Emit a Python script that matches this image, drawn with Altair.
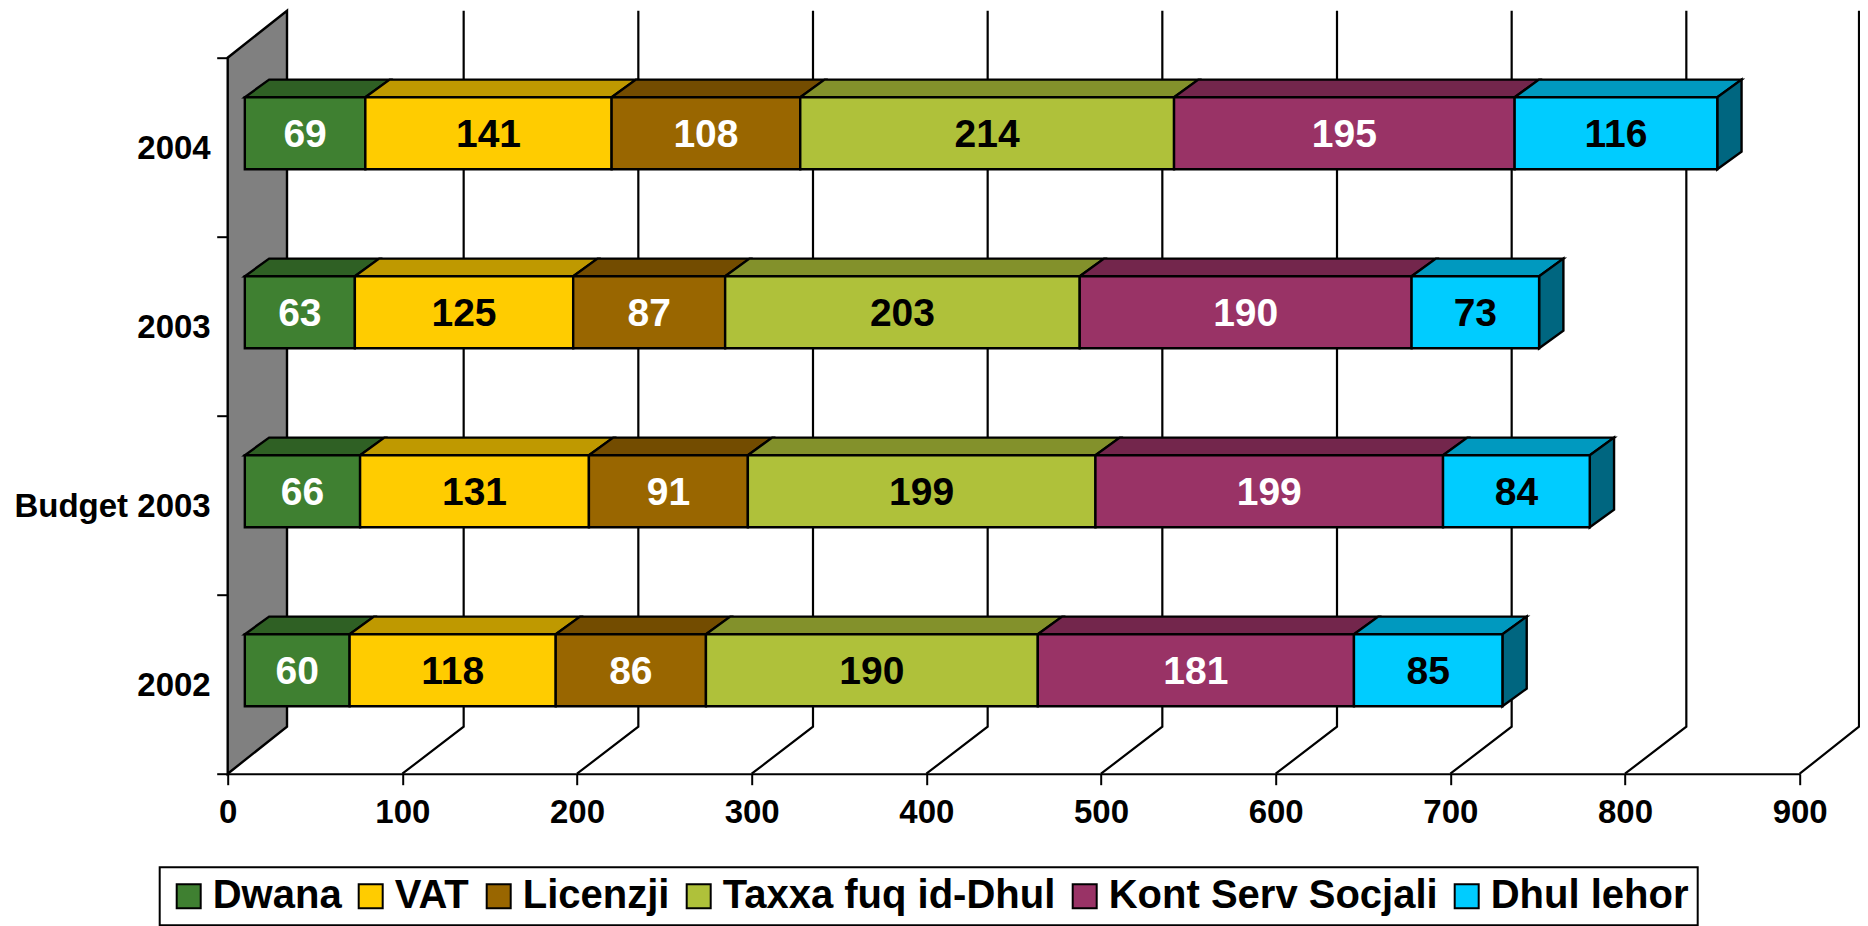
import altair as alt
import pandas as pd

categories = ["2002", "Budget 2003", "2003", "2004"]
series = ["Dwana", "VAT", "Licenzji", "Taxxa fuq id-Dhul", "Kont Serv Socjali", "Dhul lehor"]
dwana = [60, 66, 63, 69]
vat = [118, 131, 125, 141]
licenzji = [86, 91, 87, 108]
taxxa = [190, 199, 203, 214]
kont = [181, 199, 190, 195]
dhul = [85, 84, 73, 116]
front_colors = ["#3F8031", "#FFCC00", "#996600", "#AFC13A", "#993366", "#00CCFF"]
top_colors = ["#2F6024", "#BF9900", "#734C00", "#83912B", "#73264C", "#0099BF"]
side_color = "#006680"
text_colors = ["white", "black", "white", "black", "white", "black"]
x_ticks = [0, 100, 200, 300, 400, 500, 600, 700, 800, 900]
y_ticks = [0, 1, 2, 3, 4]

W, H = 1572, 716
FONT = "Liberation Sans"
# 3D geometry expressed in scale units
WALL_DX, WALL_DY = 59.3 * 900 / W, 47.0 * 4 / H
GRID_DX = 61.3 * 900 / W
BAR_DX, BAR_DY = 24.3 * 900 / W, 17.7 * 4 / H
BAR_SHIFT = 9.8
BAR_LOW, BAR_HIGH = 0.3765, 0.7788

values = [dwana, vat, licenzji, taxxa, kont, dhul]

rects, texts, tops, sides = [], [], [], []
for c, cat in enumerate(categories):
    start = BAR_SHIFT
    y0, y1 = c + BAR_LOW, c + BAR_HIGH
    for s, name in enumerate(series):
        v = values[s][c]
        end = start + v
        rects.append(dict(series=name, x=start, x2=end, y=y0, y2=y1))
        texts.append(dict(x=(start + end) / 2, y=(y0 + y1) / 2, label=str(v), color=text_colors[s]))
        gid = f"{c}-{s}"
        for px, a, b in [
            (start, y1, y1),
            (start + BAR_DX, y1, y1 + BAR_DY),
            (end, y1, y1 + BAR_DY),
            (end + BAR_DX, y1 + BAR_DY, y1 + BAR_DY),
        ]:
            tops.append(dict(g=gid, x=px, y=a, y2=b, fill=top_colors[s]))
        start = end
    sides.append(dict(g=str(c), x=start, y=y0, y2=y1))
    sides.append(dict(g=str(c), x=start + BAR_DX, y=y0 + BAR_DY, y2=y1 + BAR_DY))

wall = [
    dict(x=0, y=0, y2=4),
    dict(x=WALL_DX, y=WALL_DY, y2=4 + WALL_DY),
]
grid = []
for t in x_ticks[1:]:
    depth = WALL_DX if t == x_ticks[-1] else GRID_DX
    grid.append(dict(t=t, o=0, x=t, y=0))
    grid.append(dict(t=t, o=1, x=t + depth, y=WALL_DY))
    grid.append(dict(t=t, o=2, x=t + depth, y=4 + WALL_DY))
cat_labels = [dict(x=0, y=i + 0.5, label=cat) for i, cat in enumerate(categories)]

xs = alt.Scale(domain=[0, 900], nice=False, zero=False)
ys = alt.Scale(domain=[0, 4], nice=False, zero=False)
x_axis = alt.Axis(values=x_ticks, grid=False, tickSize=11, tickWidth=2, domainWidth=2,
                  domainColor="black", tickColor="black", labelColor="black",
                  labelFont=FONT, labelFontWeight="bold", labelFontSize=33,
                  labelPadding=12, labelFlush=False, labelOverlap=False, format="d")
y_axis = alt.Axis(values=y_ticks, grid=False, tickSize=11, tickWidth=2, domainWidth=2,
                  domainColor="black", tickColor="black", labels=False)
X = alt.X("x:Q", scale=xs, axis=x_axis, title=None)
Y = alt.Y("y:Q", scale=ys, axis=y_axis, title=None, stack=False)
X2 = alt.X2("x2:Q")
Y2 = alt.Y2("y2:Q")

wall_face = (
    alt.Chart(pd.DataFrame(wall))
    .mark_area(orient="vertical", fill="#808080", stroke="black", strokeWidth=2.4)
    .encode(x=X, y=Y, y2=Y2)
)

grid_lines = (
    alt.Chart(pd.DataFrame(grid))
    .mark_line(color="black", strokeWidth=2.2)
    .encode(x=X, y=Y, detail="t:N", order="o:Q")
)

cat_text = (
    alt.Chart(pd.DataFrame(cat_labels))
    .mark_text(align="right", baseline="middle", dx=-17, dy=2, font=FONT, fontWeight="bold",
               fontSize=33, color="black")
    .encode(x=X, y=Y, text="label:N")
)

top_faces = (
    alt.Chart(pd.DataFrame(tops))
    .mark_area(orient="vertical", stroke="black", strokeWidth=2.4)
    .encode(x=X, y=Y, y2=Y2, detail="g:N", fill=alt.Fill("fill:N", scale=None, legend=None))
)

side_faces = (
    alt.Chart(pd.DataFrame(sides))
    .mark_area(orient="vertical", stroke="black", strokeWidth=2.4, fill=side_color)
    .encode(x=X, y=Y, y2=Y2, detail="g:N")
)

front_faces = (
    alt.Chart(pd.DataFrame(rects))
    .mark_rect(stroke="black", strokeWidth=2.4)
    .encode(
        x=X, x2=X2, y=Y, y2=Y2,
        fill=alt.Fill(
            "series:N",
            scale=alt.Scale(domain=series, range=front_colors),
            sort=series,
            legend=alt.Legend(
                title=None, orient="none", legendX=-68, legendY=809.5, direction="horizontal",
                columns=6, gridAlign="each", symbolType="square", symbolSize=576, symbolStrokeWidth=2,
                symbolStrokeColor="black", labelFont=FONT, labelFontWeight="bold", labelFontSize=40,
                labelColor="black", labelLimit=900, labelOffset=4, columnPadding=9, padding=9,
                fillColor="white", strokeColor="black", symbolOpacity=1,
            ),
        ),
    )
)

bar_text = (
    alt.Chart(pd.DataFrame(texts))
    .mark_text(align="center", baseline="middle", font=FONT, fontWeight="bold", fontSize=39, dy=2)
    .encode(x=X, y=Y, text="label:N", color=alt.Color("color:N", scale=None, legend=None))
)

chart = (
    alt.layer(wall_face, grid_lines, cat_text, top_faces, side_faces, front_faces, bar_text)
    .resolve_scale(fill="independent")
    .properties(
        width=W, height=H,
        autosize=alt.AutoSizeParams(type="none"),
        padding={"left": 219.7, "top": 49.7, "right": 60.3, "bottom": 152.3},
        background="white",
    )
    .configure_view(stroke=None)
    .configure_legend(strokeWidth=2)
)

chart.save("out.html", embed_options={"renderer": "svg", "actions": False})
